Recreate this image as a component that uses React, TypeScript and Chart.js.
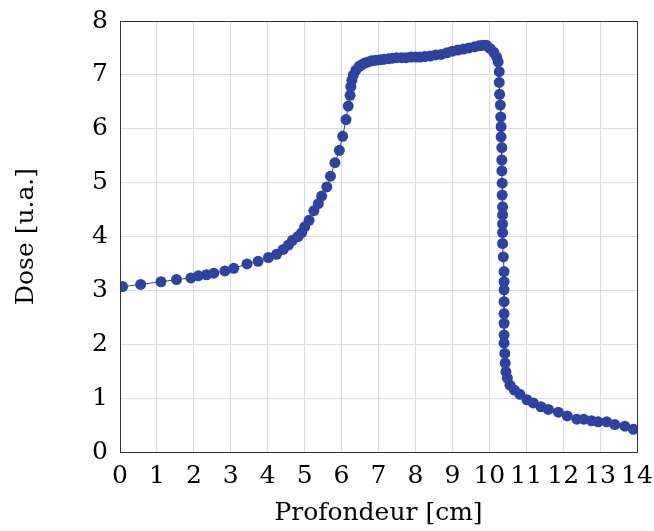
import React, { useEffect, useRef } from "react";
import { Chart, registerables } from "chart.js";

Chart.register(...registerables);

const depthCm: number[] = [
  0.07, 0.56, 1.11, 1.53, 1.92, 2.12, 2.34, 2.54, 2.84, 3.08, 3.44, 3.74, 4.02, 4.24, 4.42, 4.56, 4.67, 4.82,
  4.92, 5.0, 5.12, 5.25, 5.37, 5.46, 5.6, 5.7, 5.82, 5.94, 6.03, 6.12, 6.18, 6.23, 6.25, 6.28, 6.32, 6.39,
  6.48, 6.55, 6.63, 6.72, 6.81, 6.92, 7.04, 7.15, 7.27, 7.38, 7.49, 7.62, 7.75, 7.88, 8.0, 8.12, 8.25, 8.4,
  8.55, 8.7, 8.85, 9.0, 9.15, 9.3, 9.45, 9.6, 9.72, 9.82, 9.92, 10.02, 10.12, 10.2, 10.24, 10.27, 10.27,
  10.28, 10.3, 10.31, 10.32, 10.32, 10.34, 10.34, 10.34, 10.35, 10.35, 10.36, 10.36, 10.36, 10.36, 10.36,
  10.38, 10.4, 10.4, 10.4, 10.4, 10.4, 10.4, 10.4, 10.4, 10.42, 10.43, 10.45, 10.49, 10.56, 10.68, 10.83,
  11.02, 11.19, 11.4, 11.6, 11.87, 12.11, 12.37, 12.56, 12.77, 12.95, 13.18, 13.4, 13.67, 13.9,
];

const doseUA: number[] = [
  3.07, 3.11, 3.16, 3.2, 3.23, 3.27, 3.29, 3.32, 3.36, 3.41, 3.49, 3.54, 3.61, 3.67, 3.76, 3.84, 3.93, 4.0,
  4.07, 4.18, 4.3, 4.48, 4.61, 4.75, 4.92, 5.12, 5.37, 5.6, 5.86, 6.17, 6.42, 6.62, 6.78, 6.9, 7.0, 7.09,
  7.16, 7.19, 7.22, 7.24, 7.26, 7.27, 7.28, 7.29, 7.3, 7.31, 7.32, 7.32, 7.32, 7.33, 7.33, 7.33, 7.34, 7.35,
  7.37, 7.38, 7.41, 7.44, 7.46, 7.48, 7.5, 7.52, 7.54, 7.55, 7.55, 7.49, 7.42, 7.33, 7.24, 7.06, 6.86,
  6.64, 6.44, 6.22, 6.04, 5.85, 5.65, 5.42, 5.22, 4.99, 4.77, 4.55, 4.4, 4.23, 4.07, 3.87,
  3.62, 3.35, 3.16, 3.01, 2.79, 2.57, 2.39, 2.17, 2.02, 1.83, 1.65, 1.49, 1.37, 1.24, 1.15, 1.07,
  0.97, 0.91, 0.84, 0.79, 0.74, 0.67, 0.61, 0.61, 0.58, 0.56, 0.56, 0.51, 0.48, 0.42,
];

const xTitle = "Profondeur [cm]";
const yTitle = "Dose [u.a.]";

const BLUE = "rgb(46,67,160)";
const FONT = "'DejaVu Serif', serif";
const FS = 25;

const boxPlugin = {
  id: "box",
  afterDraw(chart: any) {
    const { ctx, chartArea } = chart;
    ctx.save();
    ctx.strokeStyle = "#333";
    ctx.lineWidth = 1;
    ctx.strokeRect(
      Math.round(chartArea.left) + 0.5,
      Math.round(chartArea.top) + 0.5,
      Math.round(chartArea.right - chartArea.left),
      Math.round(chartArea.bottom - chartArea.top)
    );
    ctx.restore();
  },
};

const zeroPad = (s: any) => {
  s.paddingLeft = 0;
  s.paddingRight = 0;
  s.paddingTop = 0;
  s.paddingBottom = 0;
};

export default function App() {
  const ref = useRef<HTMLCanvasElement>(null);
  useEffect(() => {
    if (!ref.current) return;
    const points = depthCm.map((x, i) => ({ x, y: doseUA[i] }));
    const chart = new Chart(ref.current, {
      type: "line",
      data: {
        datasets: [
          {
            data: points,
            borderColor: BLUE,
            backgroundColor: BLUE,
            borderWidth: 1,
            pointRadius: 5.5,
            pointBorderWidth: 0,
            pointBackgroundColor: BLUE,
            tension: 0,
          },
        ],
      },
      options: {
        animation: false,
        responsive: false,
        maintainAspectRatio: false,
        layout: { padding: { left: 0, right: 17, top: 21, bottom: 0 } },
        plugins: { legend: { display: false }, tooltip: { enabled: false } },
        scales: {
          x: {
            type: "linear",
            min: 0,
            max: 14,
            ticks: { stepSize: 1, color: "#000", font: { family: FONT, size: FS }, padding: 9, maxRotation: 0 },
            grid: { color: "#dcdcdc", drawTicks: false },
            border: { display: false },
            title: { display: true, text: xTitle, color: "#000", font: { family: FONT, size: FS }, padding: { top: 0, bottom: 3 } },
            afterFit: (s: any) => {
              s.height = 79;
              zeroPad(s);
            },
          },
          y: {
            type: "linear",
            min: 0,
            max: 8,
            ticks: { stepSize: 1, color: "#000", font: { family: FONT, size: FS }, padding: 12 },
            grid: { color: "#dcdcdc", drawTicks: false },
            border: { display: false },
            title: { display: true, text: yTitle, color: "#000", font: { family: FONT, size: FS }, padding: { top: 11, bottom: 0 } },
            afterFit: (s: any) => {
              s.width = 120;
              zeroPad(s);
            },
          },
        },
      },
      plugins: [boxPlugin],
    });
    return () => chart.destroy();
  }, []);
  return (
    <div style={{ position: "fixed", left: 0, top: 0, width: 654, height: 531, background: "#fff" }}>
      <canvas ref={ref} width={654} height={531} style={{ width: 654, height: 531 }} />
    </div>
  );
}
